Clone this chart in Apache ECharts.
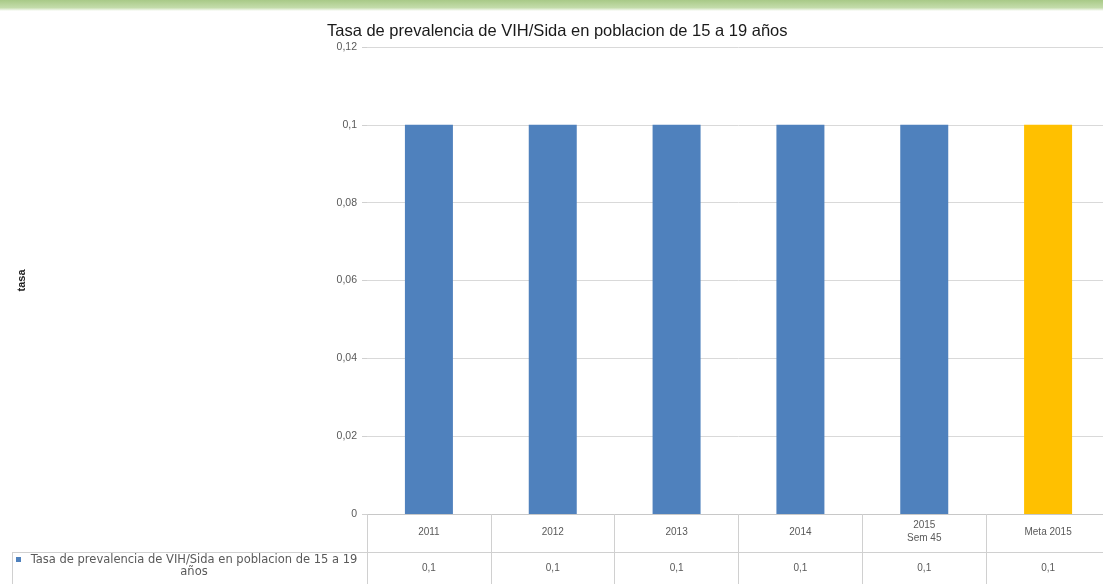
<!DOCTYPE html>
<html><head><meta charset="utf-8">
<script src="https://cdn.jsdelivr.net/npm/echarts@6/dist/echarts.min.js"></script>
<style>html,body{margin:0;padding:0;background:#fff;overflow:hidden}#c{width:1112px;height:584px}</style>
</head><body><div id="c"></div>
<script>
const titleText = 'Tasa de prevalencia de VIH/Sida en poblacion de 15 a 19 años';
const seriesName = 'Tasa de prevalencia de VIH/Sida en poblacion de 15 a 19 años';
const categories = ['2011', '2012', '2013', '2014', '2015\nSem 45', 'Meta 2015'];
const values = [0.1, 0.1, 0.1, 0.1, 0.1, 0.1];
const barColors = ['#4F81BD', '#4F81BD', '#4F81BD', '#4F81BD', '#4F81BD', '#FFC000'];
const yAxisName = 'tasa';
const yMin = 0, yMax = 0.12, yStep = 0.02;

const fmt = v => String(+v.toFixed(4)).replace('.', ',');
const chart = echarts.init(document.getElementById('c'));
chart.setOption({
  animation: false,
  textStyle: { fontFamily: 'Liberation Sans' },
  title: {
    text: titleText, left: 322, top: 18,
    textStyle: { fontSize: 16.5, fontWeight: 'normal', color: '#1a1a1a', fontFamily: 'Liberation Sans' }
  },
  legend: { show: false, data: [seriesName] },
  graphic: [
    { type: 'rect', shape: { x: 0, y: 0, width: 1112, height: 11 }, silent: true,
      style: { fill: new echarts.graphic.LinearGradient(0, 0, 0, 1, [
        { offset: 0, color: '#a8c987' }, { offset: 0.7, color: '#c4dcab' }, { offset: 1, color: '#ffffff' }]) } },
    { type: 'line', shape: { x1: 12, y1: 552.5, x2: 367, y2: 552.5 }, style: { stroke: '#d0d0d0', lineWidth: 1 } },
    { type: 'line', shape: { x1: 12.5, y1: 552, x2: 12.5, y2: 584 }, style: { stroke: '#d0d0d0', lineWidth: 1 } },
    { type: 'rect', shape: { x: 16, y: 557, width: 5, height: 5 }, style: { fill: barColors[0] } },
    { type: 'text', x: 194, y: 554,
      style: { text: seriesName.replace(' 19 años', ' 19\naños'), align: 'center', verticalAlign: 'top',
        fontSize: 11.5, lineHeight: 12, fill: '#595959', fontFamily: 'DejaVu Sans' } }
  ],
  grid: { left: 367, top: 47, width: 743, height: 467, containLabel: false },
  xAxis: [{
    type: 'category', data: categories, gridIndex: 0, position: 'bottom',
    axisLine: { lineStyle: { color: '#c8c8c8' } },
    axisTick: { show: true, length: 70, lineStyle: { color: '#d0d0d0' } },
    axisLabel: { fontSize: 10, color: '#595959', margin: 18, lineHeight: 13, verticalAlign: 'middle', interval: 0 }
  }, {
    type: 'category', data: values.map(fmt), gridIndex: 0, position: 'bottom', offset: 38,
    axisLine: { lineStyle: { color: '#d0d0d0' } },
    axisTick: { show: false },
    axisLabel: { fontSize: 10, color: '#595959', margin: 16, verticalAlign: 'middle', interval: 0 }
  }],
  yAxis: {
    type: 'value', min: yMin, max: yMax, interval: yStep,
    name: yAxisName, nameLocation: 'middle', nameGap: 340, nameRotate: 90,
    nameTextStyle: { fontSize: 11, color: '#222', fontWeight: 'bold' },
    axisLine: { show: false },
    axisTick: { show: true, length: 5, lineStyle: { color: '#d0d0d0' } },
    axisLabel: { formatter: fmt, fontSize: 10.5, color: '#595959', margin: 10 },
    splitLine: { lineStyle: { color: '#d9d9d9' } }
  },
  series: [{
    name: seriesName, type: 'bar', barWidth: 48,
    itemStyle: { color: '#4F81BD' },
    data: values.map((v, i) => ({ value: v, itemStyle: { color: barColors[i] } }))
  }]
});
</script></body></html>
